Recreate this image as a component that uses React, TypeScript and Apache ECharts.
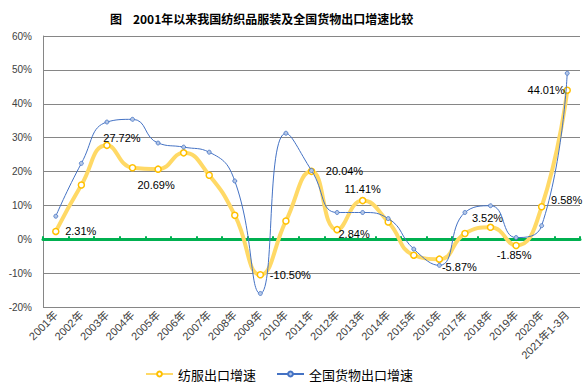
import React, { useEffect, useRef } from "react";
import * as echarts from "echarts";

const titleText = "图    2001年以来我国纺织品服装及全国货物出口增速比较";
const categories = [
  "2001年", "2002年", "2003年", "2004年", "2005年", "2006年", "2007年",
  "2008年", "2009年", "2010年", "2011年", "2012年", "2013年", "2014年",
  "2015年", "2016年", "2017年", "2018年", "2019年", "2020年", "2021年1-3月",
];
const textileName = "纺服出口增速";
const nationalName = "全国货物出口增速";
const textileGrowth = [
  2.31, 16.0, 27.72, 21.1, 20.69, 25.5, 18.9, 7.1, -10.5, 5.4, 20.04,
  2.84, 11.41, 5.1, -4.7, -5.87, 1.7, 3.52, -1.85, 9.58, 44.01,
];
const nationalGrowth = [
  6.8, 22.4, 34.6, 35.4, 28.4, 27.2, 25.7, 17.2, -16.0, 31.3, 20.3,
  7.9, 7.9, 6.1, -2.9, -7.7, 7.9, 9.9, 0.5, 4.0, 49.0,
];
const yTicks = [-20, -10, 0, 10, 20, 30, 40, 50, 60];

// label placement (style only): index -> offset from point centre
const labelOffsets: Record<number, [number, number]> = {
  0: [25, 0],
  2: [15, -7],
  4: [-2, 16],
  8: [30, 0],
  10: [33, 0],
  11: [17, 4],
  12: [0, -12],
  15: [20, 8],
  17: [-3, -9],
  18: [-2, 9],
  19: [25, -7],
  20: [-21, 0],
};

const FONT = "'Liberation Sans', 'Noto Sans CJK SC', sans-serif";

export default function App() {
  const ref = useRef<HTMLDivElement>(null);
  useEffect(() => {
    if (!ref.current) return;
    const chart = echarts.init(ref.current, null, { renderer: "svg" });
    const textileData = textileGrowth.map((v, i) => {
      const off = labelOffsets[i];
      if (!off) return v;
      return {
        value: v,
        label: {
          show: true,
          position: "inside",
          offset: off,
          align: "center",
          verticalAlign: "middle",
          formatter: v.toFixed(2) + "%",
          color: "#000",
          fontSize: 11,
          fontFamily: FONT,
        },
      };
    });
    chart.setOption({
      animation: false,
      backgroundColor: "#fff",
      textStyle: { fontFamily: FONT },
      title: {
        text: titleText,
        left: 105,
        top: 7,
        textStyle: {
          fontSize: 12,
          fontWeight: "bold",
          color: "#000",
          fontFamily: "'Noto Sans CJK SC', sans-serif",
        },
      },
      legend: {
        left: 145,
        top: 366,
        padding: 0,
        itemWidth: 27,
        itemHeight: 6,
        itemGap: 20,
        textStyle: {
          fontSize: 13,
          lineHeight: 16,
          color: "#000",
          fontFamily: "'Noto Sans CJK SC', sans-serif",
        },
        data: [textileName, nationalName],
      },
      grid: { left: 43, right: 7, top: 36, bottom: 80, containLabel: false },
      xAxis: [
        {
          type: "category",
          data: categories,
          position: "bottom",
          boundaryGap: true,
          axisLine: { show: false, onZero: false },
          axisTick: { show: false },
          axisLabel: {
            interval: 0,
            rotate: 45,
            fontSize: 11,
            color: "#404040",
            margin: 6,
            fontFamily: FONT,
          },
        },
        {
          type: "category",
          data: categories,
          position: "top",
          boundaryGap: true,
          axisLine: { show: true, onZero: true, lineStyle: { color: "#00B050", width: 3 } },
          axisTick: { show: true, interval: 0, length: 3, lineStyle: { color: "#00B050", width: 2 } },
          axisLabel: { show: false },
          splitLine: { show: false },
        },
      ],
      yAxis: {
        type: "value",
        min: yTicks[0],
        max: yTicks[yTicks.length - 1],
        interval: 10,
        axisLine: { show: true, lineStyle: { color: "#868686", width: 1 } },
        axisTick: { show: false },
        axisLabel: {
          formatter: "{value}%",
          fontSize: 10,
          color: "#404040",
          margin: 11,
          fontFamily: FONT,
        },
        splitLine: { show: true, lineStyle: { color: "#868686", width: 1 } },
      },
      series: [
        {
          name: textileName,
          type: "line",
          xAxisIndex: 0,
          data: textileData,
          smooth: 0.5,
          symbol: "circle",
          symbolSize: 6,
          lineStyle: { color: "#FFD966", width: 4 },
          itemStyle: { color: "#fff", borderColor: "#FFC000", borderWidth: 1.5 },
          z: 3,
        },
        {
          name: nationalName,
          type: "line",
          xAxisIndex: 0,
          data: nationalGrowth,
          smooth: 0.5,
          symbol: "circle",
          symbolSize: 4,
          lineStyle: { color: "#4472C4", width: 1 },
          itemStyle: { color: "#B4C7E7", borderColor: "#4472C4", borderWidth: 0.8 },
          z: 4,
        },
      ],
    });
    return () => chart.dispose();
  }, []);
  return (
    <div
      ref={ref}
      style={{ position: "absolute", left: 0, top: 0, width: 587, height: 387 }}
    />
  );
}
